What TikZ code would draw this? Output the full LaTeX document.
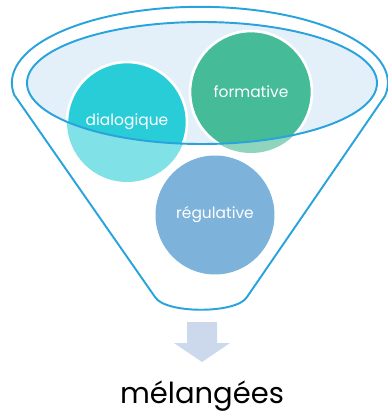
\documentclass[tikz,border=0pt]{standalone}
\usepackage{fontspec}
\setmainfont{Poppins}
\usetikzlibrary{positioning}
\definecolor{funnelcolor}{RGB}{41, 163, 221}
\definecolor{rimcolor}{RGB}{227, 239, 249}
\definecolor{dialogcolor}{RGB}{41, 205, 215}
\definecolor{dialoglight}{RGB}{128, 225, 230}
\definecolor{formcolor}{RGB}{69, 187, 151}
\definecolor{formlight}{RGB}{143, 212, 188}
\definecolor{regulcolor}{RGB}{125, 179, 218}
\definecolor{arrowcolor}{RGB}{204, 216, 235}

\begin{document}
\begin{tikzpicture}[
    x=0.02cm, y=-0.02cm,
    funnel/.style={draw=funnelcolor, line width=1.1pt, line join=round},
    bubble/.style={circle, inner sep=0pt, minimum size=2.4cm, text=white, font=\fontsize{8.8}{10}\selectfont},
    ring/.style={bubble, draw=white, line width=1.5pt},
    label/.style={font=\fontsize{16.5}{19}\selectfont, text=black}
]
\useasboundingbox (0, 0) rectangle (387, 413);

% === Funnel body ===
\draw[funnel, fill=white] (15, 96) -- (155, 297) .. controls (165, 314) and (237, 314) .. (247, 297)
    -- (385, 96) arc[start angle=10, end angle=-190, x radius=188, y radius=76] -- cycle;

% === Rim ===
\fill[rimcolor] (202, 83) ellipse[x radius=175, y radius=61];

% Lower parts of the bubbles
\node[bubble, fill=dialoglight] (dialog_lo) at (127, 122) {};
\node[bubble, fill=formlight, minimum size=2.44cm] (form_lo) at (251, 92) {};

% Upper parts, inside the rim
\begin{scope}
\clip (202, 83) ellipse[x radius=175, y radius=61];
\node[ring, fill=dialogcolor] (dialog) at (127, 122) {dialogique};
\node[ring, fill=formcolor, minimum size=2.44cm] (form) at (251, 92) {formative};
\end{scope}

\draw[funnel] (202, 83) ellipse[x radius=175, y radius=61];

% === Bottom bubble ===
\node[bubble, fill=regulcolor, minimum size=2.38cm] (regul) at (215, 215) {régulative};

% === Output arrow ===
\coordinate (spout) at (202, 322);
\fill[arrowcolor] (spout) ++(-15, 0) -- ++(30, 0) -- ++(0, 21) -- ++(13, 0) -- (202, 362)
    -- (174, 343) -- ++(13, 0) -- cycle;

\node[label] (mixed) at (202, 396) {mélangées};

\end{tikzpicture}
\end{document}
